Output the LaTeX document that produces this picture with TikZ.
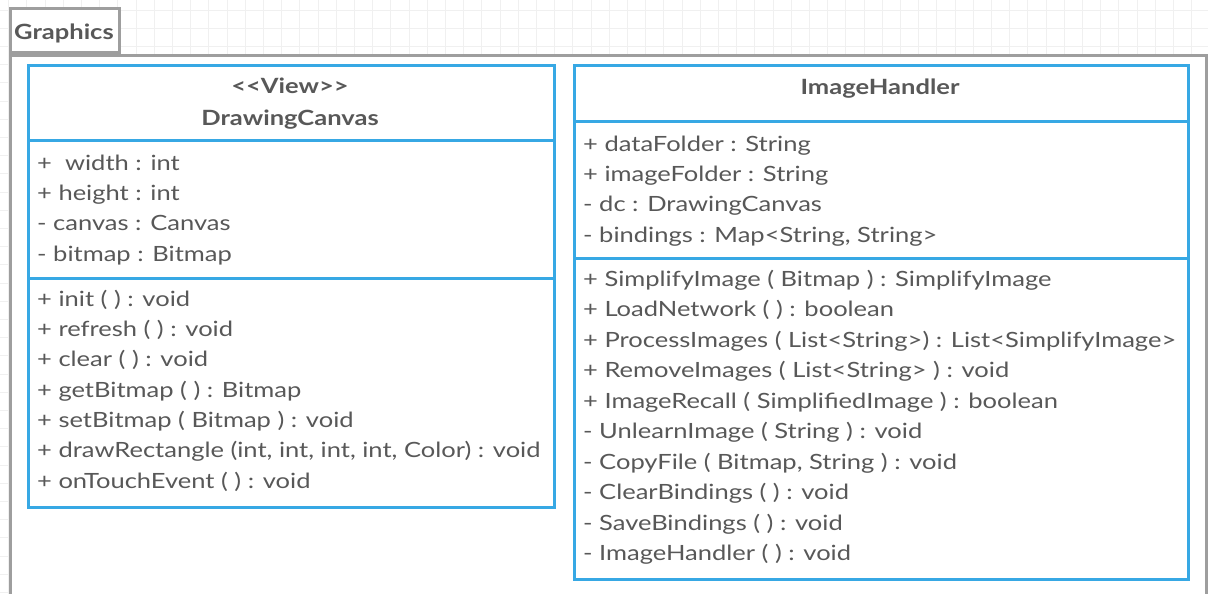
\documentclass[tikz,border=0pt]{standalone}
\usepackage{fontspec}
\setmainfont{Lato}[FakeStretch=1.215]
\definecolor{umlblue}{RGB}{55,168,228}
\definecolor{framegray}{RGB}{158,158,158}
\definecolor{textgray}{RGB}{88,88,88}
\definecolor{gridgray}{RGB}{240,240,240}
\tikzset{
  classbox/.style={draw=umlblue, line width=3pt, fill=white, inner sep=0pt},
  divider/.style={umlblue, line width=3pt},
  member/.style={anchor=base west, inner sep=0pt, text=textgray,
    font=\fontsize{21}{25}\selectfont},
  title/.style={anchor=base, inner sep=0pt, text=textgray,
    font=\fontsize{21}{25}\selectfont\bfseries},
  pkgframe/.style={draw=framegray, line width=3pt, fill=white},
}
\begin{document}
\begin{tikzpicture}[x=1pt,y=-1pt]
\useasboundingbox (0,0) rectangle (1208,594);
\fill[white] (0,0) rectangle (1208,594);
% background grid
\foreach \i in {0,...,66} \draw[gridgray, line width=0.8pt] (\i*18.2+8.5,0) -- (\i*18.2+8.5,594);
\foreach \j in {0,...,33} \draw[gridgray, line width=0.8pt] (0,\j*18.2+10) -- (1208,\j*18.2+10);

% package frame and its tab
\node[pkgframe, minimum width=1196pt, minimum height=580pt, anchor=north west] (pkg) at (9,54) {};
\node[pkgframe, line width=2.5pt, minimum width=109pt, minimum height=44pt, anchor=south west] (tab) at (9,54) {};
\node[title, anchor=base west] (pkgname) at (14,40) {Graphics};

% DrawingCanvas
\node[classbox, minimum width=526pt, minimum height=442pt, anchor=north west] (dc) at (27,64) {};
\draw[divider] (27,140) -- (553,140);
\draw[divider] (27,278) -- (553,278);
\node[title] (dcst) at (290,93.5) {<\kern0pt<View>\kern0pt>};
\node[title] (dcname) at (290,125) {DrawingCanvas};
\node[member] (dca1) at (37,170) {+ \ width : int};
\node[member] (dca2) at (37,200.3) {+ height : int};
\node[member] (dca3) at (37,230.6) {- canvas : Canvas};
\node[member] (dca4) at (37,261) {- bitmap : Bitmap};
\node[member] (dcm1) at (37,306) {+ init ( ) : void};
\node[member] (dcm2) at (37,336.3) {+ refresh ( ) : void};
\node[member] (dcm3) at (37,366.6) {+ clear ( ) : void};
\node[member] (dcm4) at (37,397) {+ getBitmap ( ) : Bitmap};
\node[member] (dcm5) at (37,427.3) {+ setBitmap ( Bitmap ) : void};
\node[member] (dcm6) at (37,457.6) {+ drawRectangle (int, int, int, int, Color) : void};
\node[member] (dcm7) at (37,488) {+ onTouchEvent ( ) : void};

% ImageHandler
\node[classbox, minimum width=614pt, minimum height=514pt, anchor=north west] (ih) at (573,64) {};
\draw[divider] (573,121) -- (1187,121);
\draw[divider] (573,258) -- (1187,258);
\node[title] (ihname) at (880,95) {ImageHandler};
\node[member] (iha1) at (583,151) {+ dataFolder : String};
\node[member] (iha2) at (583,181.3) {+ imageFolder : String};
\node[member] (iha3) at (583,211.6) {- dc : DrawingCanvas};
\node[member] (iha4) at (583,242) {- bindings : Map<String, String>};
\node[member] (ihm1) at (583,286) {+ SimplifyImage ( Bitmap ) : SimplifyImage};
\node[member] (ihm2) at (583,316.5) {+ LoadNetwork ( ) : boolean};
\node[member] (ihm3) at (583,347) {+ ProcessImages ( List<String>) : List<SimplifyImage>};
\node[member] (ihm4) at (583,377.5) {+ RemoveImages ( List<String> ) : void};
\node[member] (ihm5) at (583,408) {+ ImageRecall ( SimplifiedImage ) : boolean};
\node[member] (ihm6) at (583,438.5) {- UnlearnImage ( String ) : void};
\node[member] (ihm7) at (583,469) {- CopyFile ( Bitmap, String ) : void};
\node[member] (ihm8) at (583,499.5) {- ClearBindings ( ) : void};
\node[member] (ihm9) at (583,530) {- SaveBindings ( ) : void};
\node[member] (ihm10) at (583,560.5) {- ImageHandler ( ) : void};
\end{tikzpicture}
\end{document}
